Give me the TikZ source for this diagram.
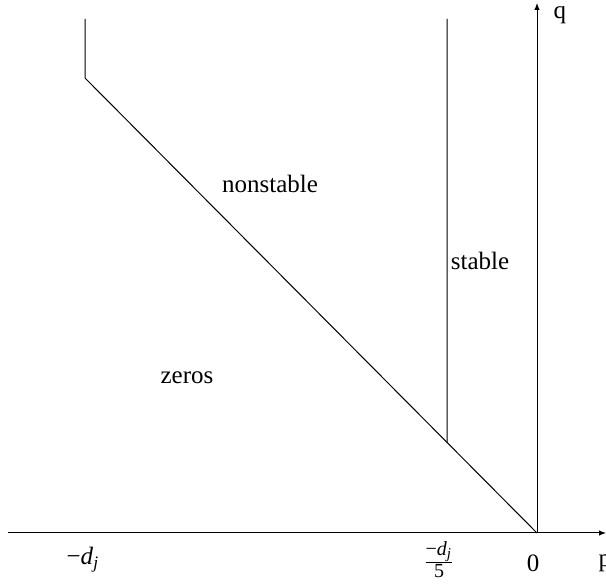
\documentclass[tikz,border=0pt]{standalone}
\usepackage{fontspec}
\setmainfont{Liberation Serif}
\usetikzlibrary{arrows.meta}

\newcommand{\negdj}{−\textit{d}\textsubscript{\textit{j}}}

\begin{document}
\begin{tikzpicture}[x=0.4pt, y=-0.4pt,
  axis/.style={-{Latex[length=2.8pt, width=2.2pt]}, line width=0.4pt},
  bound/.style={line width=0.4pt},
  lbl/.style={inner sep=0pt, anchor=base, font=\normalsize}
]
\useasboundingbox (0,0) rectangle (606,584);

\coordinate (O)    at (537,533);
\coordinate (xl)   at (8,533);
\coordinate (xr)   at (606,533);
\coordinate (yt)   at (537,3);
\coordinate (cnr)  at (85,78);
\coordinate (ctop) at (85,19);
\coordinate (stop) at (447,19);
\coordinate (sbot) at (intersection of O--cnr and stop--{447,600});

% axes
\draw[axis] (xl) -- (xr);
\draw[axis] (O) -- (yt);

% region boundaries
\draw[bound] (O) -- (cnr) -- (ctop);
\draw[bound] (sbot) -- (stop);

% labels
\node[lbl, anchor=base west] (q)    at (553,19)  {q};
\node[lbl, anchor=base west] (p)    at (598,567) {p};
\node[lbl]                   (zero) at (533,572) {0};
\node[lbl]                   (dj)   at (83,565)  {\negdj};
\node[lbl]                   (dj5)  at (439,569)
  {$\frac{\hbox{\footnotesize\negdj}}{\hbox{\footnotesize 5}}$};
\node[lbl]                   (ns)   at (270,193) {nonstable};
\node[lbl]                   (st)   at (480,270) {stable};
\node[lbl]                   (zr)   at (187,384) {zeros};
\end{tikzpicture}
\end{document}
